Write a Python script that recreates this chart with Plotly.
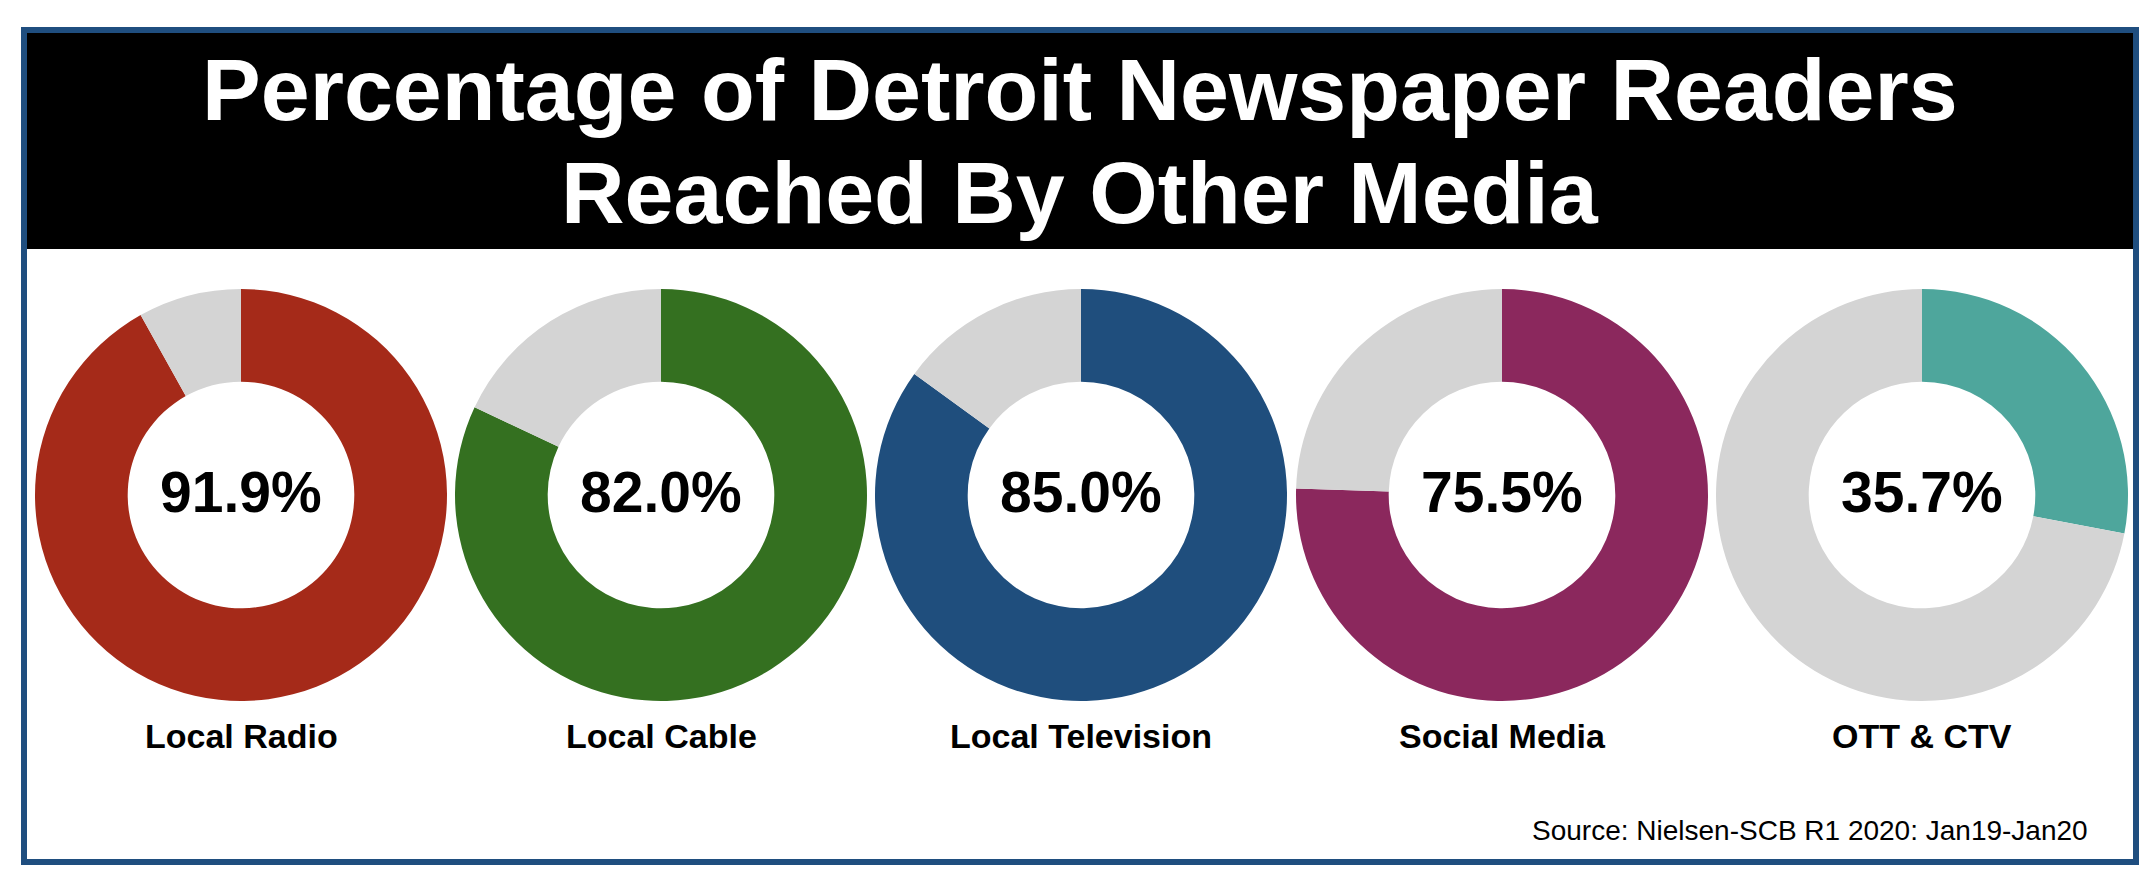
import plotly.graph_objects as go

W, H = 2156, 880

media = ["Local Radio", "Local Cable", "Local Television", "Social Media", "OTT & CTV"]
reach_labels = ["91.9%", "82.0%", "85.0%", "75.5%", "35.7%"]
# wedge sizes as drawn in the picture (OTT wedge is drawn smaller than its label)
reach = [91.9, 82.0, 85.0, 75.5, 28.0]
colors = ["#A52A19", "#347020", "#1F4E7D", "#8B285D", "#4EA69C"]
grey = "#D4D4D4"

title_lines = ["Percentage of Detroit Newspaper Readers", "Reached By Other Media"]
source = "Source: Nielsen-SCB R1 2020: Jan19-Jan20"

bold = "Liberation Sans, Arial, Helvetica, sans-serif"

# page body has an 8px margin, so shift everything up/left by that
OFF = 8

def px(x):
    return (x - OFF) / W

def py(y):
    return 1 - (y - OFF) / H

centers_x = [241, 661, 1081, 1502, 1922]
center_y = 495
radius = 206

fig = go.Figure()

for i, name in enumerate(media):
    cx = centers_x[i]
    val = reach[i]
    fig.add_trace(go.Pie(
        values=[val, 100 - val],
        labels=[name, "Other"],
        marker=dict(colors=[colors[i], grey], line=dict(width=0)),
        hole=0.55,
        sort=False,
        direction="clockwise",
        rotation=0,
        textinfo="none",
        hoverinfo="skip",
        showlegend=False,
        domain=dict(x=[px(cx - radius), px(cx + radius)],
                    y=[py(center_y + radius), py(center_y - radius)]),
    ))
    fig.add_annotation(
        x=px(cx), y=py(492), xref="paper", yref="paper",
        text=reach_labels[i], showarrow=False,
        xanchor="center", yanchor="middle",
        font=dict(family=bold, size=57, color="black", weight="bold"),
    )
    fig.add_annotation(
        x=px(cx), y=py(736), xref="paper", yref="paper",
        text=name, showarrow=False,
        xanchor="center", yanchor="middle",
        font=dict(family=bold, size=34, color="black", weight="bold"),
    )

# black title band and blue frame
fig.add_shape(type="rect", xref="paper", yref="paper",
              x0=px(27), x1=px(2133), y0=py(249), y1=py(33),
              fillcolor="black", line=dict(width=0), layer="below")
fig.add_shape(type="rect", xref="paper", yref="paper",
              x0=px(24), x1=px(2136), y0=py(862), y1=py(30),
              line=dict(color="#1F4E7F", width=6))

for line, cy in zip(title_lines, [90, 192]):
    fig.add_annotation(
        x=px(1080), y=py(cy), xref="paper", yref="paper",
        text=line, showarrow=False,
        xanchor="center", yanchor="middle",
        font=dict(family=bold, size=88, color="white", weight="bold"),
    )

fig.add_annotation(
    x=px(2090), y=py(830), xref="paper", yref="paper",
    text=source, showarrow=False,
    xanchor="right", yanchor="middle",
    font=dict(family="Liberation Sans, Arial, sans-serif", size=28, color="black"),
)

fig.update_layout(
    width=W, height=H,
    margin=dict(l=0, r=0, t=0, b=0),
    paper_bgcolor="white",
    plot_bgcolor="white",
)

fig.write_html("out.html")
